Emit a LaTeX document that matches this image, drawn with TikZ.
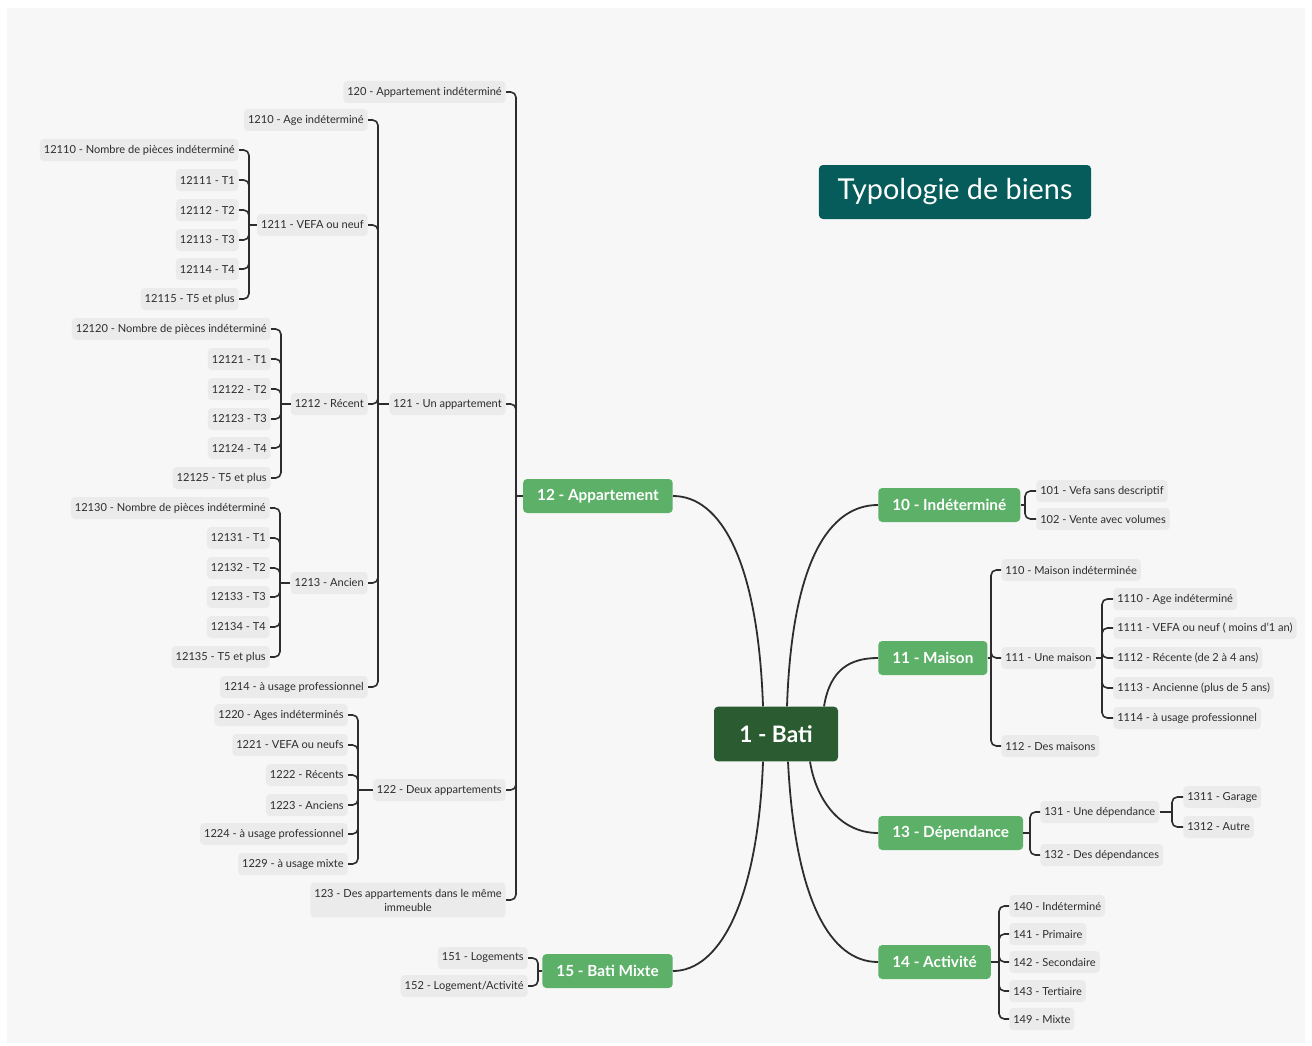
\documentclass[tikz,border=0pt]{standalone}
\usepackage{fontspec}
\setmainfont{Lato}
\usepackage{tikz}
\usetikzlibrary{calc}
\definecolor{bgpaper}{RGB}{247,247,247}
\definecolor{leafgray}{RGB}{235,235,235}
\definecolor{inkgray}{RGB}{45,45,45}
\definecolor{branchgreen}{RGB}{92,176,104}
\definecolor{rootgreen}{RGB}{43,92,49}
\definecolor{titleteal}{RGB}{5,92,90}

\begin{document}
\begin{tikzpicture}[x=0.75pt, y=-0.75pt,
    leaf/.style={rectangle, rounded corners=3pt, fill=leafgray, text=inkgray, inner xsep=3pt,
                 inner ysep=0pt, minimum height=16.5pt, font=\fontsize{8.3}{10.5}\selectfont},
    branch/.style={rectangle, rounded corners=3pt, fill=branchgreen, text=white, inner xsep=10.5pt,
                   minimum height=25.5pt, font=\fontsize{11.5}{13}\selectfont\bfseries},
    rootbox/.style={rectangle, rounded corners=3pt, fill=rootgreen, text=white, minimum width=93pt,
                    minimum height=41pt, font=\fontsize{17}{20}\selectfont\bfseries},
    titlebox/.style={rectangle, rounded corners=3pt, fill=titleteal, text=white, inner xsep=14pt,
                     minimum height=40.5pt, font=\fontsize{21.6}{24}\selectfont},
    link/.style={draw=inkgray, line width=1.2pt, rounded corners=4pt},
    curve/.style={draw=inkgray, line width=1.35pt}]

\useasboundingbox (0,0) rectangle (1312,1045);
\fill[bgpaper] (7,8) rectangle (1305,1043);

% centre and title
\node[rootbox] (bati) at (776,734) {1 - Bati};
\node[titlebox] (titre) at (955,192) {Typologie de biens};

% main branches
\node[branch, anchor=west] (b10) at (878,505) {10 - Indéterminé};
\node[branch, anchor=west] (b11) at (878,658) {11 - Maison};
\node[branch, anchor=east] (b12) at (673,496) {12 - Appartement};
\node[branch, anchor=west] (b13) at (878,833) {13 - Dépendance};
\node[branch, anchor=west] (b14) at (878,962) {14 - Activité};
\node[branch, anchor=east] (b15) at (673,971) {15 - Bati Mixte};

% 10
\node[leaf, anchor=west] (n101) at (1036,491) {101 - Vefa sans descriptif};
\node[leaf, anchor=west] (n102) at (1036,519) {102 - Vente avec volumes};

% 11
\node[leaf, anchor=west] (n110) at (1001,570) {110 - Maison indéterminée};
\node[leaf, anchor=west] (n111) at (1001,658) {111 - Une maison};
\node[leaf, anchor=west] (n112) at (1001,746) {112 - Des maisons};
\node[leaf, anchor=west] (n1110) at (1113,599) {1110 - Age indéterminé};
\node[leaf, anchor=west] (n1111) at (1113,628) {1111 - VEFA ou neuf ( moins d'1 an)};
\node[leaf, anchor=west] (n1112) at (1113,658) {1112 - Récente (de 2 à 4 ans)};
\node[leaf, anchor=west] (n1113) at (1113,688) {1113 - Ancienne (plus de 5 ans)};
\node[leaf, anchor=west] (n1114) at (1113,718) {1114 - à usage professionnel};

% 12
\node[leaf, anchor=east] (n120) at (506,92) {120 - Appartement indéterminé};
\node[leaf, anchor=east] (n121) at (506,404) {121 - Un appartement};
\node[leaf, anchor=east] (n122) at (506,790) {122 - Deux appartements};
\node[leaf, anchor=east, align=center, minimum height=26pt] (n123) at (506,900)
    {123 - Des appartements dans le même\\immeuble};

\node[leaf, anchor=east] (n1210) at (368,120) {1210 - Age indéterminé};
\node[leaf, anchor=east] (n1211) at (368,225) {1211 - VEFA ou neuf};
\node[leaf, anchor=east] (n1212) at (368,404) {1212 - Récent};
\node[leaf, anchor=east] (n1213) at (368,583) {1213 - Ancien};
\node[leaf, anchor=east] (n1214) at (368,687) {1214 - à usage professionnel};

\node[leaf, anchor=east] (n12110) at (239,150) {12110 - Nombre de pièces indéterminé};
\node[leaf, anchor=east] (n12111) at (239,180) {12111 - T1};
\node[leaf, anchor=east] (n12112) at (239,210) {12112 - T2};
\node[leaf, anchor=east] (n12113) at (239,240) {12113 - T3};
\node[leaf, anchor=east] (n12114) at (239,269) {12114 - T4};
\node[leaf, anchor=east] (n12115) at (239,299) {12115 - T5 et plus};

\node[leaf, anchor=east] (n12120) at (271,329) {12120 - Nombre de pièces indéterminé};
\node[leaf, anchor=east] (n12121) at (271,359) {12121 - T1};
\node[leaf, anchor=east] (n12122) at (271,389) {12122 - T2};
\node[leaf, anchor=east] (n12123) at (271,419) {12123 - T3};
\node[leaf, anchor=east] (n12124) at (271,448) {12124 - T4};
\node[leaf, anchor=east] (n12125) at (271,478) {12125 - T5 et plus};

\node[leaf, anchor=east] (n12130) at (270,508) {12130 - Nombre de pièces indéterminé};
\node[leaf, anchor=east] (n12131) at (270,538) {12131 - T1};
\node[leaf, anchor=east] (n12132) at (270,568) {12132 - T2};
\node[leaf, anchor=east] (n12133) at (270,597) {12133 - T3};
\node[leaf, anchor=east] (n12134) at (270,627) {12134 - T4};
\node[leaf, anchor=east] (n12135) at (270,657) {12135 - T5 et plus};

\node[leaf, anchor=east] (n1220) at (348,715) {1220 - Ages indéterminés};
\node[leaf, anchor=east] (n1221) at (348,745) {1221 - VEFA ou neufs};
\node[leaf, anchor=east] (n1222) at (348,775) {1222 - Récents};
\node[leaf, anchor=east] (n1223) at (348,805) {1223 - Anciens};
\node[leaf, anchor=east] (n1224) at (348,834) {1224 - à usage professionnel};
\node[leaf, anchor=east] (n1229) at (348,864) {1229 - à usage mixte};

% 13
\node[leaf, anchor=west] (n131) at (1040,812) {131 - Une dépendance};
\node[leaf, anchor=west] (n132) at (1040,855) {132 - Des dépendances};
\node[leaf, anchor=west] (n1311) at (1183,797) {1311 - Garage};
\node[leaf, anchor=west] (n1312) at (1183,827) {1312 - Autre};

% 14
\node[leaf, anchor=west] (n140) at (1009,906) {140 - Indéterminé};
\node[leaf, anchor=west] (n141) at (1009,934) {141 - Primaire};
\node[leaf, anchor=west] (n142) at (1009,962) {142 - Secondaire};
\node[leaf, anchor=west] (n143) at (1009,991) {143 - Tertiaire};
\node[leaf, anchor=west] (n149) at (1009,1019) {149 - Mixte};

% 15
\node[leaf, anchor=east] (n151) at (528,958) {151 - Logements};
\node[leaf, anchor=east] (n152) at (528,986) {152 - Logement/Activité};

% trunks
\coordinate (t10) at (1025,505);
\coordinate (t11) at (991,658);
\coordinate (t111) at (1102,658);
\coordinate (t12) at (516,496);
\coordinate (t121) at (378,404);
\coordinate (t1211) at (249,225);
\coordinate (t1212) at (281,404);
\coordinate (t1213) at (280,583);
\coordinate (t122) at (358,790);
\coordinate (t13) at (1030,833);
\coordinate (t131) at (1172,812);
\coordinate (t14) at (999,962);
\coordinate (t15) at (538,971);

% curves from the centre
\draw[curve] ($(bati.north)+(-13,0)$) .. controls +(-5,-147) and +(47,0) .. (b12.east);
\draw[curve] ($(bati.north)+(11,0)$) .. controls +(5,-147) and +(-48,0) .. (b10.west);
\draw[curve] ($(bati.north)+(48,0)$) .. controls +(6,-37) and +(-28,0) .. (b11.west);
\draw[curve] ($(bati.south)+(34,0)$) .. controls +(6,38) and +(-38,0) .. (b13.west);
\draw[curve] ($(bati.south)+(12,0)$) .. controls +(7,138) and +(-48,0) .. (b14.west);
\draw[curve] ($(bati.south)+(-13,0)$) .. controls +(-5,138) and +(47,0) .. (b15.east);

% brackets
\draw[link] (b10.east) -- (t10);
\draw[link] (t10) |- (n101.west) (t10) |- (n102.west);
\draw[link] (b11.east) -- (t11);
\draw[link] (t11) |- (n110.west) (t11) |- (n111.west) (t11) |- (n112.west);
\draw[link] (n111.east) -- (t111);
\draw[link] (t111) |- (n1110.west) (t111) |- (n1111.west) (t111) |- (n1112.west)
    (t111) |- (n1113.west) (t111) |- (n1114.west);
\draw[link] (b12.west) -- (t12);
\draw[link] (t12) |- (n120.east) (t12) |- (n121.east) (t12) |- (n122.east) (t12) |- (n123.east);
\draw[link] (n121.west) -- (t121);
\draw[link] (t121) |- (n1210.east) (t121) |- (n1211.east) (t121) |- (n1212.east)
    (t121) |- (n1213.east) (t121) |- (n1214.east);
\draw[link] (n1211.west) -- (t1211);
\draw[link] (t1211) |- (n12110.east) (t1211) |- (n12111.east) (t1211) |- (n12112.east)
    (t1211) |- (n12113.east) (t1211) |- (n12114.east) (t1211) |- (n12115.east);
\draw[link] (n1212.west) -- (t1212);
\draw[link] (t1212) |- (n12120.east) (t1212) |- (n12121.east) (t1212) |- (n12122.east)
    (t1212) |- (n12123.east) (t1212) |- (n12124.east) (t1212) |- (n12125.east);
\draw[link] (n1213.west) -- (t1213);
\draw[link] (t1213) |- (n12130.east) (t1213) |- (n12131.east) (t1213) |- (n12132.east)
    (t1213) |- (n12133.east) (t1213) |- (n12134.east) (t1213) |- (n12135.east);
\draw[link] (n122.west) -- (t122);
\draw[link] (t122) |- (n1220.east) (t122) |- (n1221.east) (t122) |- (n1222.east)
    (t122) |- (n1223.east) (t122) |- (n1224.east) (t122) |- (n1229.east);
\draw[link] (b13.east) -- (t13);
\draw[link] (t13) |- (n131.west) (t13) |- (n132.west);
\draw[link] (n131.east) -- (t131);
\draw[link] (t131) |- (n1311.west) (t131) |- (n1312.west);
\draw[link] (b14.east) -- (t14);
\draw[link] (t14) |- (n140.west) (t14) |- (n141.west) (t14) |- (n142.west)
    (t14) |- (n143.west) (t14) |- (n149.west);
\draw[link] (b15.west) -- (t15);
\draw[link] (t15) |- (n151.east) (t15) |- (n152.east);
\end{tikzpicture}
\end{document}
